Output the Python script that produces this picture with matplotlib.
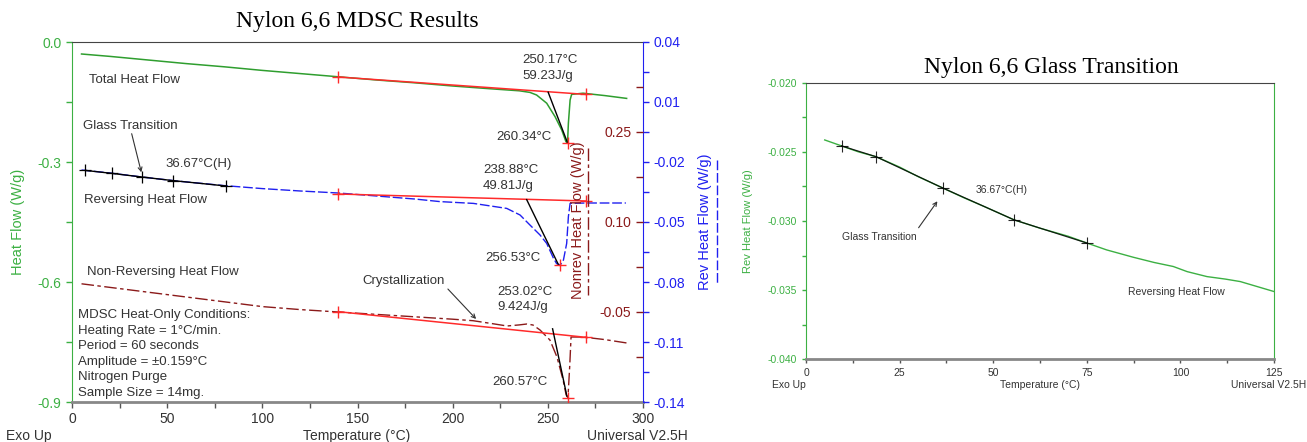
"""Nylon 6,6 MDSC results: full scan plus glass transition zoom."""

import matplotlib
matplotlib.use("Agg")
import matplotlib.pyplot as plt

W, H = 1307, 442

# --- left panel: MDSC full scan -------------------------------------------
total_t = [5, 20, 40, 60, 80, 100, 120, 140, 160, 180, 200, 220, 235, 240.6, 244.1,
           249.4, 253.8, 257.3, 259.5, 260.34, 260.8, 261.7, 262.5, 268.5, 280, 291.4]
total_hf = [-0.030, -0.036, -0.045, -0.054, -0.062, -0.071, -0.079, -0.087, -0.095,
            -0.102, -0.110, -0.117, -0.122, -0.126, -0.1325, -0.153, -0.1867, -0.220,
            -0.249, -0.253, -0.203, -0.145, -0.131, -0.128, -0.134, -0.141]

rev_t = [5, 20, 36.67, 55, 80, 100, 120, 140, 160, 180, 193.3, 210.9, 228.4, 235.4,
         240.6, 245.9, 249.4, 252.9, 254.6, 256.53, 258.2, 259.9, 260.8, 261.7, 270,
         280, 291]
rev_hf = [-0.0240, -0.0255, -0.0275, -0.0295, -0.0318, -0.0333, -0.0345, -0.0355,
          -0.0370, -0.0385, -0.0398, -0.0407, -0.0432, -0.0465, -0.0515, -0.0565,
          -0.0607, -0.0680, -0.0708, -0.0715, -0.0690, -0.0607, -0.0473, -0.0407,
          -0.0405, -0.0405, -0.0405]

nonrev_t = [5, 25, 50, 75, 100, 120, 140, 160, 180, 200, 210.7, 220, 228.6, 235, 239,
            242.2, 245.9, 251.1, 254.8, 258, 259.6, 260.57, 261.5, 262.2, 268.5, 280,
            291.6]
nonrev_hf = [-0.003, -0.011, -0.021, -0.031, -0.041, -0.046, -0.050, -0.054, -0.058,
             -0.062, -0.0645, -0.069, -0.0733, -0.0715, -0.070, -0.0717, -0.080,
             -0.0967, -0.125, -0.163, -0.188, -0.193, -0.140, -0.0917, -0.0917,
             -0.096, -0.1017]

# baselines (start / end of integration) and onset tangents
total_base_t, total_base = [140, 270], [-0.0875, -0.131]
total_tan_t, total_tan = [250.17, 260.34], [-0.1255, -0.252]
rev_base_t, rev_base = [140, 270], [-0.036, -0.0395]
rev_tan_t, rev_tan = [238.88, 255.5], [-0.0388, -0.0712]
nonrev_base_t, nonrev_base = [140, 270], [-0.0495, -0.0922]
nonrev_tan_t, nonrev_tan = [252.5, 260.0], [-0.078, -0.190]

tg_fit_t = [7, 21, 36.67, 53, 81]
tg_fit_hf = [-0.0242, -0.0257, -0.0275, -0.0293, -0.0320]

# --- right panel: glass transition zoom ------------------------------------
gt_t = [5, 9.5, 14, 18.7, 25, 30, 36.67, 42, 48, 55.6, 62.5, 70, 75.1, 80.3, 87.4,
        93, 98.1, 101.8, 107.1, 112, 116, 120, 125]
gt_hf = [-0.02414, -0.02457, -0.0250, -0.02535, -0.0261, -0.0268, -0.02763, -0.0283,
         -0.0290, -0.02992, -0.03052, -0.0311, -0.0316, -0.03209, -0.03262, -0.0330,
         -0.03329, -0.03366, -0.03402, -0.0342, -0.03438, -0.0347, -0.0351]
gt_fit_t = [9.5, 18.7, 36.67, 55.6, 75.1]
gt_fit_hf = [-0.02457, -0.02535, -0.02763, -0.02992, -0.0316]

conditions = ["MDSC Heat-Only Conditions:", "Heating Rate = 1°C/min.",
              "Period = 60 seconds", "Amplitude = ±0.159°C", "Nitrogen Purge",
              "Sample Size = 14mg."]

GREEN = "#2f9e2f"
LGREEN = "#3cb043"
BLUE = "#2020f0"
DRED = "#8b1a1a"
RED = "#ff2a2a"
TXT = "#333333"
SANS = "Liberation Sans"
SERIF = "Liberation Serif"

plt.rcParams["font.family"] = SANS


def px(x, y):
    return x / W, 1 - y / H


def ftext(x, y, s, **kw):
    kw.setdefault("color", TXT)
    kw.setdefault("fontsize", 9.5)
    kw.setdefault("va", "center")
    fig.text(*px(x, y), s, **kw)


def arrow(x0, y0, x1, y1):
    fig.add_artist(matplotlib.patches.FancyArrowPatch(
        px(x0, y0), px(x1, y1), transform=fig.transFigure, arrowstyle="->",
        mutation_scale=7, color=TXT, lw=0.8))


fig = plt.figure(figsize=(W / 100, H / 100), dpi=100)

# ======================= left panel ========================================
ax = fig.add_axes([72 / W, 1 - 402 / H, (643 - 72) / W, 360 / H])
ax.set_xlim(0, 300)
ax.set_ylim(-0.9, 0.0)
ax.set_xticks(range(0, 301, 50))
ax.set_xticks(range(25, 300, 50), minor=True)
ax.set_yticks([-0.9, -0.6, -0.3, 0.0])
ax.set_yticklabels(["-0.9", "-0.6", "-0.3", "0.0"])
ax.set_yticks([-0.75, -0.45, -0.15], minor=True)
ax.tick_params(axis="x", which="both", colors="#555555", labelcolor=TXT, labelsize=10,
               length=4, width=1, direction="out")
ax.tick_params(axis="y", which="both", colors=LGREEN, labelcolor=LGREEN, labelsize=10,
               length=4, width=1)
ax.spines["right"].set_visible(False)
ax.spines["left"].set_color(LGREEN)
ax.spines["top"].set_color("#444444")
ax.spines["bottom"].set_color("#888888")
ax.spines["bottom"].set_linewidth(2)

ax.plot(total_t, total_hf, color=GREEN, lw=1.1)
ax.plot(total_base_t, total_base, color=RED, lw=1.1, marker="+", ms=9, mew=1)
ax.plot(total_tan_t, total_tan, color="black", lw=1)
ax.plot([260.34], [-0.253], color=RED, marker="+", ms=8, mew=1)

ax_rev = ax.twinx()
ax_rev.set_ylim(-0.14, 0.04)
ax_rev.set_yticks([-0.14, -0.11, -0.08, -0.05, -0.02, 0.01, 0.04])
ax_rev.set_yticklabels(["-0.14", "-0.11", "-0.08", "-0.05", "-0.02", "0.01", "0.04"])
ax_rev.set_yticks([-0.125, -0.095, -0.065, -0.035, -0.005, 0.025], minor=True)
ax_rev.tick_params(axis="y", which="both", colors=BLUE, labelcolor=BLUE, labelsize=10,
                   length=4, width=1)
for s in ("left", "top", "bottom"):
    ax_rev.spines[s].set_visible(False)
ax_rev.spines["right"].set_color(BLUE)
ax_rev.plot(rev_t, rev_hf, color=BLUE, lw=1.0, dashes=(7, 2))
ax_rev.plot(rev_base_t, rev_base, color=RED, lw=1.1, marker="+", ms=9, mew=1)
ax_rev.plot(rev_tan_t, rev_tan, color="black", lw=1)
ax_rev.plot([256.53], [-0.0715], color=RED, marker="+", ms=8, mew=1)
ax_rev.plot(tg_fit_t, tg_fit_hf, color="black", lw=1, marker="+", ms=9, mew=0.9)

ax_non = ax.twinx()
ax_non.set_ylim(-0.20, 0.40)
ax_non.yaxis.tick_left()
ax_non.spines["left"].set_position(("axes", 1.0))
for s in ax_non.spines.values():
    s.set_visible(False)
ax_non.set_yticks([-0.05, 0.10, 0.25])
ax_non.set_yticklabels(["-0.05", "0.10", "0.25"])
ax_non.set_yticks([-0.125, 0.025, 0.175, 0.325], minor=True)
ax_non.tick_params(axis="y", which="both", colors=DRED, labelcolor=DRED, labelsize=10,
                   length=5, width=1)
ax_non.plot(nonrev_t, nonrev_hf, color=DRED, lw=1.0, dashes=(9, 2.5, 2.5, 2.5))
ax_non.plot(nonrev_base_t, nonrev_base, color=RED, lw=1.1, marker="+", ms=9, mew=1)
ax_non.plot(nonrev_tan_t, nonrev_tan, color="black", lw=1)
ax_non.plot([260.57], [-0.193], color=RED, marker="+", ms=8, mew=1)

# axis titles with line keys
ftext(18, 222, "Heat Flow (W/g)", color=LGREEN, fontsize=10.5, rotation=90, ha="center")
ftext(578, 220, "Nonrev Heat Flow (W/g)", color=DRED, fontsize=10.5, rotation=90,
      ha="center")
fig.add_artist(matplotlib.lines.Line2D([588 / W, 588 / W], [1 - 148 / H, 1 - 295 / H],
                                       color=DRED, lw=1, dashes=(9, 2.5, 2.5, 2.5)))
ftext(705, 222, "Rev Heat Flow (W/g)", color=BLUE, fontsize=10.5, rotation=90,
      ha="center")
fig.add_artist(matplotlib.lines.Line2D([717 / W, 717 / W], [1 - 160 / H, 1 - 284 / H],
                                       color=BLUE, lw=1, dashes=(7, 2)))

ftext(357, 22, "Nylon 6,6 MDSC Results", family=SERIF, fontsize=17, color="black",
      ha="center")
ftext(6, 436, "Exo Up", fontsize=10)
ftext(357, 436, "Temperature (°C)", fontsize=10, ha="center")
ftext(688, 436, "Universal V2.5H", fontsize=10, ha="right")

ftext(89, 80, "Total Heat Flow")
ftext(83, 126, "Glass Transition")
arrow(131, 131, 142, 175)
ftext(165, 164, "36.67°C(H)")
ftext(84, 200, "Reversing Heat Flow")
ftext(87, 272, "Non-Reversing Heat Flow")
for i, line in enumerate(conditions):
    ftext(78, 315 + i * 15.6, line)
ftext(522, 60, "250.17°C")
ftext(522, 76, "59.23J/g")
ftext(496, 137, "260.34°C")
ftext(483, 170, "238.88°C")
ftext(483, 186, "49.81J/g")
ftext(485, 258, "256.53°C")
ftext(362, 281, "Crystallization")
arrow(446, 287, 478, 321)
ftext(497, 292, "253.02°C")
ftext(497, 307, "9.424J/g")
ftext(492, 382, "260.57°C")

# ======================= right panel =======================================
bx = fig.add_axes([806 / W, 1 - 359.3 / H, (1274 - 806) / W, (359.3 - 82.7) / H])
bx.set_xlim(0, 125)
bx.set_ylim(-0.040, -0.020)
bx.set_xticks(range(0, 126, 25))
bx.set_xticks([12.5, 37.5, 62.5, 87.5, 112.5], minor=True)
bx.set_yticks([-0.040, -0.035, -0.030, -0.025, -0.020])
bx.set_yticklabels(["-0.040", "-0.035", "-0.030", "-0.025", "-0.020"])
bx.set_yticks([-0.0375, -0.0325, -0.0275, -0.0225], minor=True)
bx.tick_params(axis="x", which="both", colors="#555555", labelcolor=TXT, labelsize=7.5,
               length=3, width=1)
bx.tick_params(axis="y", which="both", colors=LGREEN, labelcolor=LGREEN, labelsize=7.5,
               length=3, width=1)
bx.spines["left"].set_color(LGREEN)
bx.spines["right"].set_color(LGREEN)
bx.spines["top"].set_color("#444444")
bx.spines["bottom"].set_color("#888888")
bx.spines["bottom"].set_linewidth(2)
bx.plot(gt_t, gt_hf, color=LGREEN, lw=1.0)
bx.plot(gt_fit_t, gt_fit_hf, color="black", lw=0.9, marker="+", ms=8, mew=0.8,
        alpha=0.85)

ftext(1051, 67, "Nylon 6,6 Glass Transition", family=SERIF, fontsize=17, color="black",
      ha="center")
ftext(748, 221, "Rev Heat Flow (W/g)", color=LGREEN, fontsize=8, rotation=90,
      ha="center")
ftext(772, 385, "Exo Up", fontsize=7.5)
ftext(1040, 385, "Temperature (°C)", fontsize=7.5, ha="center")
ftext(1306, 385, "Universal V2.5H", fontsize=7.5, ha="right")
ftext(976, 190, "36.67°C(H)", fontsize=7.5)
ftext(842, 237, "Glass Transition", fontsize=7.5)
arrow(917, 230, 939, 199)
ftext(1128, 292, "Reversing Heat Flow", fontsize=7.5)

fig.savefig("out.png", dpi=100)
